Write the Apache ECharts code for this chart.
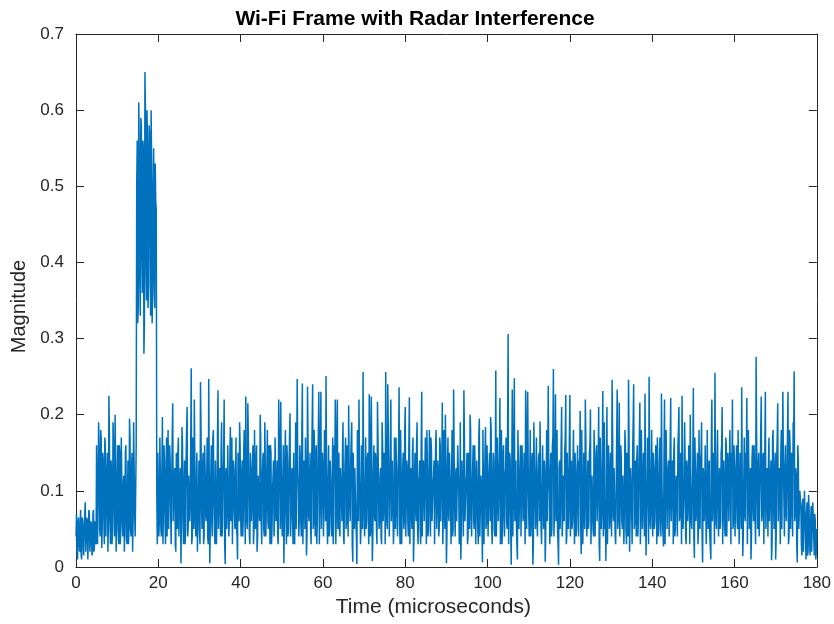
<!DOCTYPE html>
<html>
<head>
<meta charset="utf-8">
<script src="https://cdn.jsdelivr.net/npm/echarts@6/dist/echarts.min.js"></script>
<style>
html,body{margin:0;padding:0;background:#fff;}
#chart{width:834px;height:624px;}
</style>
</head>
<body>
<div id="chart"></div>
<script>
// ---- Data: magnitude samples ----
// "on-grid" samples every 0.25 us, plus the samples half-way between them (t + 0.125 us)
const sampleStep = 0.25;
const titleText = 'Wi-Fi Frame with Radar Interference';
const xAxisName = 'Time (microseconds)';
const yAxisName = 'Magnitude';
const xTicks = [0, 20, 40, 60, 80, 100, 120, 140, 160, 180];
const yTicks = [0, 0.1, 0.2, 0.3, 0.4, 0.5, 0.6, 0.7];

// 0 - 4.75 us
const magPreamble = [.04,.02,.06,.03,.055,.015,.065,.03,.05,.085,.02,.06,.01,.07,.035,.055,.02,.075,.03,.06];
const magPreambleMid = [.07,.01,.065,.02,.075,.01,.06,.015,.07,.02,.065,.01,.075,.02,.06,.015,.07,.02,.06,.03];
// 5 - 14.5 us
const magTraining = [.16,.03,.19,.05,.18,.025,.15,.07,.17,.04,.125,.02,.225,.06,.14,.03,.19,.08,.2,.02,.12,.05,.16,.03,.17,.06,.11,.02,.15,.04,.09,.03,.195,.05,.13,.02,.19,.07,.1];
const magTrainingMid = [.16,.03,.15,.04,.17,.05,.14,.03,.16,.04,.15,.06,.17,.03,.13,.05,.16,.04,.14,.06,.16,.03,.15,.05,.17,.04,.12,.06,.16,.03,.14,.05,.17,.04,.15,.06,.13,.04,.16];
// 14.75 - 19.5 us (radar pulse)
const magRadarPulse = [.5,.32,.61,.38,.59,.42,.56,.28,.65,.4,.6,.34,.58,.45,.6,.32,.5,.36,.53,.47];
const magRadarPulseMid = [.56,.34,.54,.33,.58,.36,.55,.32,.6,.35,.55,.37,.57,.33,.53,.38,.55,.34,.48,.1];
// 19.75 - 29.5 us
const magPayload20 = [.03,.15,.06,.12,.04,.197,.08,.14,.03,.17,.09,.05,.16,.07,.11,.215,.06,.13,.02,.1,.15,.04,.12,.005,.184,.07,.1,.03,.14,.21,.05,.12,.08,.261,.04,.15,.22,.06,.11,.02];
const magPayload20Mid = [.15,.04,.17,.05,.13,.03,.16,.06,.12,.04,.18,.05,.14,.03,.17,.06,.12,.03,.15,.05,.17,.04,.13,.06,.16,.03,.14,.05,.18,.04,.12,.06,.16,.03,.17,.05,.14,.04,.15,.06];
// 29.75 - 39.5 us
const magPayload30 = [.09,.05,.243,.08,.13,.03,.16,.07,.11,.04,.247,.005,.12,.06,.17,.09,.03,.14,.07,.232,.05,.1,.15,.04,.12,.22,.004,.13,.08,.16,.06,.184,.09,.03,.14,.07,.11,.05,.01,.15];
const magPayload30Mid = [.14,.03,.18,.05,.15,.04,.13,.06,.17,.03,.12,.05,.16,.04,.18,.06,.14,.03,.17,.05,.13,.04,.19,.06,.15,.03,.12,.05,.16,.04,.14,.06,.17,.03,.13,.05,.17,.04,.15,.06];
// 39.75 - 49.5 us
const magPayload40 = [.19,.07,.12,.04,.15,.09,.224,.06,.215,.11,.03,.13,.08,.16,.05,.1,.14,.02,.12,.07,.2,.06,.11,.15,.04,.13,.08,.18,.05,.12,.16,.03,.1,.14,.07,.17,.09,.04,.22,.12];
const magPayload40Mid = [.16,.04,.14,.06,.18,.03,.12,.05,.17,.04,.15,.06,.13,.03,.18,.05,.16,.04,.12,.06,.17,.03,.14,.05,.19,.04,.13,.06,.16,.03,.15,.05,.12,.04,.17,.06,.14,.03,.17,.05];
// 49.75 - 59.5 us
const magPayload50 = [.217,.06,.11,.005,.14,.08,.16,.04,.12,.202,.07,.13,.03,.15,.09,.05,.247,.1,.06,.14,.04,.241,.08,.12,.17,.015,.237,.07,.11,.05,.13,.24,.06,.1,.15,.03,.12,.23,.08,.23];
const magPayload50Mid = [.13,.04,.16,.06,.18,.03,.14,.05,.17,.04,.12,.06,.15,.03,.19,.05,.13,.04,.16,.06,.18,.03,.14,.05,.12,.04,.17,.06,.15,.03,.13,.05,.18,.04,.16,.06,.12,.03,.17,.05];
// 59.75 - 69.5 us
const magPayload60 = [.05,.13,.09,.15,.251,.06,.11,.04,.14,.08,.12,.03,.16,.22,.07,.22,.1,.05,.13,.09,.15,.04,.11,.17,.06,.12,.212,.08,.14,.19,.007,.1,.13,.06,.004,.15,.22,.09,.05,.12];
const magPayload60Mid = [.15,.04,.18,.06,.13,.03,.16,.05,.14,.04,.17,.06,.12,.03,.18,.05,.15,.04,.13,.06,.19,.03,.14,.05,.16,.04,.12,.06,.17,.03,.15,.05,.13,.04,.18,.06,.14,.03,.16,.05];
// 69.75 - 79.5 us
const magPayload70 = [.256,.07,.11,.05,.14,.09,.227,.04,.224,.008,.12,.07,.15,.05,.217,.1,.06,.13,.03,.16,.08,.12,.256,.06,.24,.1,.04,.22,.09,.14,.05,.11,.17,.07,.13,.236,.03,.12,.08,.15];
const magPayload70Mid = [.12,.04,.17,.06,.15,.03,.18,.05,.13,.04,.16,.06,.14,.03,.17,.05,.12,.04,.19,.06,.15,.03,.13,.05,.18,.04,.16,.06,.14,.03,.17,.05,.12,.04,.15,.06,.18,.03,.13,.05];
// 79.75 - 89.5 us
const magPayload80 = [.06,.21,.09,.13,.04,.223,.1,.07,.15,.007,.12,.08,.16,.05,.11,.14,.03,.23,.09,.13,.06,.15,.18,.04,.12,.09,.17,.06,.11,.14,.03,.18,.08,.13,.05,.16,.1,.216,.07,.12];
const magPayload80Mid = [.18,.04,.14,.06,.16,.03,.13,.05,.17,.04,.15,.06,.19,.03,.12,.05,.16,.04,.14,.06,.17,.03,.13,.05,.18,.04,.15,.06,.12,.03,.16,.05,.14,.04,.17,.06,.13,.03,.18,.05];
// 89.75 - 99.5 us
const magPayload90 = [.2,.005,.13,.07,.15,.09,.11,.04,.233,.08,.12,.06,.16,.1,.05,.01,.14,.08,.232,.06,.11,.15,.04,.13,.2,.07,.1,.16,.05,.12,.09,.14,.03,.195,.08,.11,.006,.18,.09,.184];
const magPayload90Mid = [.14,.04,.17,.06,.12,.03,.18,.05,.15,.04,.13,.06,.16,.03,.19,.05,.14,.04,.17,.06,.12,.03,.15,.05,.18,.04,.13,.06,.16,.03,.14,.05,.17,.04,.12,.06,.18,.03,.15,.05];
// 99.75 - 109.5 us
const magPayload100 = [.06,.12,.09,.15,.197,.05,.11,.14,.04,.258,.08,.13,.06,.222,.1,.03,.15,.07,.12,.17,.05,.306,.09,.14,.003,.233,.08,.248,.11,.06,.01,.13,.09,.16,.04,.12,.07,.15,.232,.05];
const magPayload100Mid = [.16,.04,.13,.06,.18,.03,.15,.05,.12,.04,.17,.06,.14,.03,.18,.05,.16,.04,.13,.06,.19,.03,.15,.05,.12,.04,.17,.06,.14,.03,.18,.05,.13,.04,.16,.06,.15,.03,.17,.05];
// 109.75 - 119.5 us
const magPayload110 = [.23,.07,.12,.04,.14,.003,.19,.09,.13,.06,.11,.15,.191,.05,.1,.08,.14,.007,.12,.06,.238,.09,.13,.04,.16,.26,.07,.227,.1,.05,.003,.14,.08,.21,.06,.12,.15,.226,.04,.11];
const magPayload110Mid = [.13,.04,.18,.06,.15,.03,.12,.05,.17,.04,.14,.06,.19,.03,.16,.05,.13,.04,.18,.06,.12,.03,.15,.05,.17,.04,.14,.06,.18,.03,.13,.05,.16,.04,.12,.06,.17,.03,.15,.05];
// 119.75 - 129.5 us
const magPayload120 = [.08,.226,.1,.05,.13,.07,.15,.04,.12,.09,.14,.205,.017,.11,.06,.13,.22,.08,.1,.05,.15,.207,.07,.12,.04,.14,.09,.16,.06,.21,.008,.12,.07,.231,.1,.05,.008,.21,.08,.13];
const magPayload120Mid = [.17,.04,.14,.06,.18,.03,.13,.05,.16,.04,.12,.06,.18,.03,.15,.05,.17,.04,.14,.06,.16,.03,.12,.05,.18,.04,.15,.06,.13,.03,.17,.05,.14,.04,.19,.06,.12,.03,.16,.05];
// 129.75 - 139.5 us
const magPayload130 = [.06,.11,.246,.07,.13,.04,.1,.233,.06,.216,.09,.14,.05,.12,.08,.16,.03,.11,.246,.02,.13,.08,.15,.24,.06,.1,.14,.04,.12,.216,.07,.11,.05,.15,.228,.015,.1,.13,.25,.06];
const magPayload130Mid = [.15,.04,.18,.06,.13,.03,.17,.05,.14,.04,.16,.06,.12,.03,.18,.05,.15,.04,.17,.06,.13,.03,.19,.05,.14,.04,.16,.06,.12,.03,.18,.05,.15,.04,.13,.06,.17,.03,.14,.05];
// 139.75 - 149.5 us
const magPayload140 = [.12,.08,.15,.05,.13,.09,.17,.04,.11,.07,.228,.06,.027,.22,.1,.13,.05,.14,.08,.222,.06,.12,.15,.04,.11,.09,.16,.21,.07,.12,.225,.05,.1,.14,.03,.13,.08,.15,.2,.06];
const magPayload140Mid = [.18,.04,.13,.06,.16,.03,.14,.05,.17,.04,.12,.06,.15,.03,.18,.05,.13,.04,.16,.06,.14,.03,.17,.05,.12,.04,.18,.06,.15,.03,.13,.05,.19,.04,.14,.06,.16,.03,.12,.05];
// 149.75 - 159.5 us
const magPayload150 = [.09,.235,.012,.13,.07,.15,.05,.11,.14,.19,.006,.12,.08,.16,.06,.1,.13,.04,.01,.22,.08,.12,.255,.06,.14,.09,.11,.05,.15,.21,.07,.12,.04,.16,.09,.13,.06,.11,.15,.22];
const magPayload150Mid = [.14,.04,.17,.06,.12,.03,.18,.05,.15,.04,.13,.06,.16,.03,.18,.05,.14,.04,.17,.06,.15,.03,.12,.05,.18,.04,.13,.06,.16,.03,.14,.05,.17,.04,.15,.06,.18,.03,.13,.05];
// 159.75 - 169.5 us
const magPayload160 = [.06,.13,.09,.16,.05,.12,.08,.14,.236,.014,.11,.07,.15,.222,.09,.12,.05,.01,.14,.08,.16,.06,.276,.1,.13,.04,.12,.224,.07,.15,.09,.23,.05,.11,.14,.06,.12,.009,.17,.08];
const magPayload160Mid = [.16,.04,.13,.06,.18,.03,.15,.05,.12,.04,.17,.06,.14,.03,.18,.05,.13,.04,.16,.06,.12,.03,.17,.05,.15,.04,.18,.06,.14,.03,.16,.05,.13,.04,.17,.06,.14,.03,.18,.05];
// 169.75 - 175.75 us
const magPayload170 = [.12,.01,.14,.215,.06,.11,.15,.05,.23,.09,.13,.07,.12,.23,.04,.16,.1,.08,.19,.257,.07,.12,.006,.14,.05];
const magPayload170Mid = [.15,.04,.17,.06,.13,.03,.18,.05,.14,.04,.16,.06,.12,.03,.18,.05,.15,.04,.17,.06,.13,.03,.16,.05,.1];
// 176 - 180 us
const magTail = [.09,.03,.08,.02,.1,.04,.07,.015,.095,.03,.06,.02,.085,.04,.07,.01,.05];
const magTailMid = [.08,.015,.09,.02,.07,.01,.085,.02,.075,.015,.08,.02,.07,.015,.06,.02];

const magOnGrid = [].concat(
  magPreamble, magTraining, magRadarPulse,
  magPayload20, magPayload30, magPayload40, magPayload50, magPayload60,
  magPayload70, magPayload80, magPayload90, magPayload100, magPayload110,
  magPayload120, magPayload130, magPayload140, magPayload150, magPayload160,
  magPayload170, magTail
);
const magHalfStep = [].concat(
  magPreambleMid, magTrainingMid, magRadarPulseMid,
  magPayload20Mid, magPayload30Mid, magPayload40Mid, magPayload50Mid, magPayload60Mid,
  magPayload70Mid, magPayload80Mid, magPayload90Mid, magPayload100Mid, magPayload110Mid,
  magPayload120Mid, magPayload130Mid, magPayload140Mid, magPayload150Mid, magPayload160Mid,
  magPayload170Mid, magTailMid
);
const seriesData = [];
magOnGrid.forEach((v, i) => {
  seriesData.push([i * sampleStep, v]);
  if (i < magHalfStep.length) seriesData.push([i * sampleStep + sampleStep / 2, magHalfStep[i]]);
});

// ---- Chart ----
const axisColor = '#262626';
const fontFam = '"Liberation Sans", Arial, Helvetica, sans-serif';
const chart = echarts.init(document.getElementById('chart'), null, {renderer: 'canvas'});

const xBase = {
  type: 'value', min: xTicks[0], max: xTicks[xTicks.length - 1], interval: 20,
  splitLine: {show: false},
  axisLine: {show: true, onZero: false, lineStyle: {color: axisColor, width: 1}},
  axisTick: {show: true, inside: true, length: 8, lineStyle: {color: axisColor, width: 1}}
};
const yBase = {
  type: 'value', min: yTicks[0], max: yTicks[yTicks.length - 1], interval: 0.1,
  splitLine: {show: false},
  axisLine: {show: true, onZero: false, lineStyle: {color: axisColor, width: 1}},
  axisTick: {show: true, inside: true, length: 8, lineStyle: {color: axisColor, width: 1}}
};

const lengthsOk = magOnGrid.length === 721 && magHalfStep.length === 720;

chart.setOption({
  animation: false,
  backgroundColor: '#ffffff',
  title: {
    text: lengthsOk ? titleText : titleText + ' (' + magOnGrid.length + '/' + magHalfStep.length + ')',
    left: 410, top: 4, textAlign: 'center',
    textStyle: {fontFamily: fontFam, fontSize: 21, fontWeight: 'bold', color: '#000'}
  },
  grid: {left: 76, right: 16, top: 34, bottom: 57, containLabel: false},
  xAxis: [
    Object.assign({}, xBase, {
      position: 'bottom',
      name: xAxisName, nameLocation: 'middle', nameGap: 30,
      nameTextStyle: {fontFamily: fontFam, fontSize: 21, color: axisColor, padding: [0, 26, 0, 0]},
      axisLabel: {show: true, margin: 8, fontFamily: fontFam, fontSize: 17, color: axisColor}
    }),
    Object.assign({}, xBase, {position: 'top', axisLabel: {show: false}})
  ],
  yAxis: [
    Object.assign({}, yBase, {
      position: 'left',
      name: yAxisName, nameLocation: 'middle', nameGap: 44, nameRotate: 90,
      nameTextStyle: {fontFamily: fontFam, fontSize: 20, color: axisColor, padding: [0, 12, 0, 0]},
      axisLabel: {show: true, margin: 12, fontFamily: fontFam, fontSize: 17, color: axisColor}
    }),
    Object.assign({}, yBase, {position: 'right', axisLabel: {show: false}})
  ],
  series: [{
    type: 'line',
    xAxisIndex: 0, yAxisIndex: 0,
    data: seriesData,
    showSymbol: false,
    symbol: 'none',
    lineStyle: {color: '#0072BD', width: 1.5},
    itemStyle: {color: '#0072BD'},
    z: 1
  }]
});
</script>
</body>
</html>
